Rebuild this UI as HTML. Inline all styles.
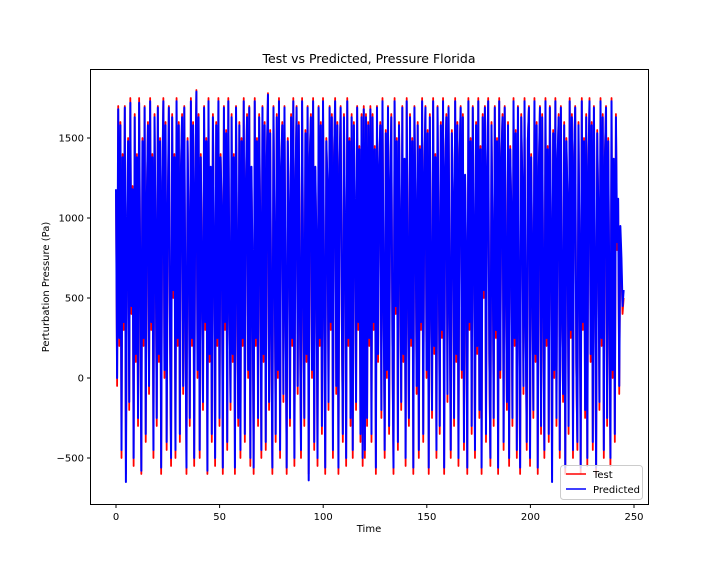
<!DOCTYPE html>
<html><head><meta charset="utf-8"><style>
body{margin:0;background:#fff;font-family:"Liberation Sans","DejaVu Sans",sans-serif;}
svg text{font-family:"DejaVu Sans","Liberation Sans",sans-serif;}
</style></head><body>
<svg id="chart" width="720" height="576" xmlns="http://www.w3.org/2000/svg">
<rect width="720" height="576" fill="#fff"/>
<g id="plot"></g>
<rect x="90.5" y="69.5" width="558" height="435" fill="none" stroke="#000" stroke-width="1"/>
<g id="xt"></g><g id="yt"></g>
<text x="369" y="63" font-size="12.5" text-anchor="middle">Test vs Predicted, Pressure Florida</text>
<text x="369" y="532" font-size="10" text-anchor="middle">Time</text>
<text transform="translate(49,287) rotate(-90)" font-size="10" text-anchor="middle">Perturbation Pressure (Pa)</text>
<g>
<rect x="560.5" y="465.5" width="82" height="34" rx="3" fill="#fff" fill-opacity="0.8" stroke="#ccc"/>
<line x1="566" y1="474" x2="586" y2="474" stroke="#f00" stroke-width="1.5"/>
<text x="593" y="478" font-size="10">Test</text>
<line x1="566" y1="489" x2="586" y2="489" stroke="#00f" stroke-width="1.5"/>
<text x="593" y="493" font-size="10">Predicted</text>
</g>
</svg>
<script>
const xTicks=[0,50,100,150,200,250];
const yTicks=[-500,0,500,1000,1500];
const timeEnd=245;
const testValuesA=[1150,-50,1700,200,1600,-500,1400,300,1700,-600,900,1500,-200,1750,400,1200,-550,1650,100,1400,
-300,1750,600,-600,1500,200,1700,-400,1100,1600,-100,1750,300,1400,-500,1650,800,-300,1700,100,
1500,-600,1200,1750,0,1600,-450,1000,1700,300,-550,1650,500,1400,-500,1750,200,1600,-400,1300,
1650,-100,1700,400,-600,1500,900,-300,1750,200,1600,-550,1200,1800,0,1650,-500,1400,600,-200,
1700,300,1500,-600,1750,100,1300,-400,1650,800,-550,1600,200,1750,-300,1400,1000,-600,1700,300,
1550,-450,1750,500,-200,1650,100,1400,-600,1700,700,-300,1600,-500,1500,200,1750,-400,1200,1650,
0,1700,-550,1300,600,-600,1750,200,1500,-300,1650,900,-500,1700,100,1600,-450,1400,1780,-200,
1550,300,-600,1700,800,-400,1650,0,1750,-500,1300,1600,-150,1700,400,-600,1500,1000,-300,1650,
200,1750,-550,1200,1700,-100,1600,400,-500,1750,600,-300,1550,100,1700,-600,1400,1650,0,1750,
-450,1300,800,-550,1700,200,1600,-350,1750,500,-600,1500,1200,-200,1700,300,1650,-500,1400,1750,
-100,1600,-600,1300,1700,400,-400,1650,900,-550,1750,200,1500,-300,1650,-500,1600,1000,-200,1700,
300,1450,-400,1650,-550,1700,-500,1650,-300,1600,200];
const testValuesB=[1700,-400,1650,300,1450,-600,1700,100,1300,1600,-250,1750,500,-500,1550,0,1700,-350,1200,1650,
200,-600,1750,400,1500,-450,1600,900,-200,1700,100,1350,-550,1750,600,-300,1650,200,1500,-600,
1700,1000,-100,1600,-500,1450,300,1750,-400,1250,1700,0,1550,-600,1650,500,-250,1750,150,1400,
-500,1700,800,-350,1600,250,1750,-600,1300,1650,-150,1700,450,-500,1550,1100,-300,1750,100,1600,
-550,1400,1700,0,1650,-450,1250,700,-600,1750,300,1500,-350,1700,900,-500,1600,150,1750,-250,
1450,-600,1650,500,1700,-400,1300,1750,100,-550,1600,800,-300,1700,250,1500,-600,1750,0,1350,
1650,-450,1700,600,-200,1600,-550,1450,1000,-300,1750,200,1550,-500,1700,400,-600,1650,1200,-100,
1750,300,-450,1500,1700,-550,1400,700,-250,1750,100,1600,-600,1300,1700,-350,1650,500,-500,1750,
200,1450,-400,1700,900,-600,1550,0,1750,-300,1350,1650,-500,1700,400,-150,1600,-600,1500,1100,
-350,1750,250,1650,-500,1400,1700,50,-450,1600,700,-600,1750,300,1500,-250,1650,-550,1300,1750,
100,1600,-450,1700,600,-600,1550,1000,-200,1750,200,1650,-500,1400,1700,-300,1500,500,-550,1750,
0,1350,-400,1650,800,1100,-100,900,700,400,500];
const predictedValuesA=[1180,0,1680,250,1580,-450,1380,350,1690,-650,950,1480,-150,1720,450,1180,-500,1630,150,1380,
-250,1720,650,-580,1480,250,1690,-350,1120,1580,-50,1730,350,1380,-450,1630,850,-250,1690,150,
1480,-560,1220,1730,50,1580,-400,1050,1690,350,-500,1630,550,1380,-450,1730,250,1580,-350,1320,
1630,-50,1690,450,-560,1480,950,-250,1730,250,1580,-500,1220,1790,50,1630,-450,1380,650,-150,
1690,350,1480,-580,1730,150,1320,-350,1630,850,-500,1580,250,1730,-250,1380,1050,-560,1690,350,
1530,-400,1730,550,-150,1630,150,1380,-560,1690,750,-250,1580,-450,1480,250,1730,-350,1220,1630,
50,1690,-500,1320,650,-560,1730,250,1480,-250,1630,950,-450,1690,150,1580,-400,1380,1770,-150,
1530,350,-560,1690,850,-350,1630,50,1730,-450,1320,1580,-100,1690,450,-560,1480,1050,-250,1630,
250,1730,-500,1220,1690,-50,1580,450,-450,1730,650,-250,1530,150,1690,-640,1380,1630,50,1730,
-400,1320,850,-500,1690,250,1580,-300,1730,550,-560,1480,1220,-150,1690,350,1630,-450,1380,1730,
-50,1580,-560,1320,1690,450,-350,1630,950,-500,1730,250,1480,-250,1630,-450,1580,1050,-150,1690,
350,1430,-350,1630,-500,1680,-450,1630,-250,1580,250];
const predictedValuesB=[1680,-350,1630,350,1430,-560,1690,150,1320,1580,-200,1730,550,-450,1530,50,1690,-300,1220,1630,
250,-560,1730,450,1480,-400,1580,950,-150,1690,150,1370,-500,1730,650,-250,1630,250,1480,-560,
1690,1050,-50,1580,-450,1430,350,1730,-350,1270,1690,50,1530,-560,1630,550,-200,1730,200,1380,
-450,1690,850,-300,1580,300,1730,-560,1320,1630,-100,1690,500,-450,1530,1120,-250,1730,150,1580,
-500,1380,1690,50,1630,-400,1270,750,-560,1730,350,1480,-300,1690,950,-450,1580,200,1730,-200,
1430,-560,1630,550,1690,-350,1320,1730,150,-500,1580,850,-250,1690,300,1480,-560,1730,50,1370,
1630,-400,1690,650,-150,1580,-500,1430,1050,-250,1730,250,1530,-450,1690,450,-560,1630,1220,-50,
1730,350,-400,1480,1690,-500,1380,750,-200,1730,150,1580,-560,1320,1690,-300,1630,550,-450,1730,
250,1430,-350,1690,950,-650,1530,50,1730,-250,1370,1630,-450,1690,450,-100,1580,-560,1480,1120,
-300,1730,300,1630,-450,1380,1690,100,-400,1580,750,-560,1730,350,1480,-200,1630,-500,1320,1730,
150,1580,-400,1690,650,-560,1530,1050,-150,1730,250,1630,-450,1380,1690,-250,1480,550,-500,1730,
50,1370,-350,1630,850,1120,-50,950,750,450,550];
const testValues=testValuesA.concat(testValuesB);
const predictedValues=predictedValuesA.concat(predictedValuesB);
const X=v=>116+v*2.072, Y=v=>378-v*0.16;
const NS="http://www.w3.org/2000/svg";
const plot=document.getElementById('plot');
function line(vals,color,w,name){
  const step=timeEnd/(vals.length-1);
  const p=document.createElementNS(NS,'polyline');
  p.setAttribute('points',vals.map((v,i)=>X(i*step)+','+Y(v)).join(' '));
  p.setAttribute('fill','none');p.setAttribute('stroke',color);p.setAttribute('stroke-width',w);
  p.setAttribute('stroke-linejoin','round');
  
  
  plot.appendChild(p);
}
line(testValues,'#f00',1.8,'test-series');
line(predictedValues,'#00f',2,'predicted-series');
const xt=document.getElementById('xt'), yt=document.getElementById('yt');
xTicks.forEach(t=>{
  const l=document.createElementNS(NS,'line');
  l.setAttribute('x1',X(t));l.setAttribute('x2',X(t));l.setAttribute('y1',504.5);l.setAttribute('y2',508);l.setAttribute('stroke','#000');
  
  
  xt.appendChild(l);
  const s=document.createElementNS(NS,'text');
  s.setAttribute('x',X(t));s.setAttribute('y',520);s.setAttribute('font-size','10');s.setAttribute('text-anchor','middle');
  s.textContent=t;
  
  
  xt.appendChild(s);
});
yTicks.forEach(t=>{
  const l=document.createElementNS(NS,'line');
  l.setAttribute('x1',87);l.setAttribute('x2',90.5);l.setAttribute('y1',Y(t));l.setAttribute('y2',Y(t));l.setAttribute('stroke','#000');
  
  
  yt.appendChild(l);
  const s=document.createElementNS(NS,'text');
  s.setAttribute('x',84);s.setAttribute('y',Y(t)+3.5);s.setAttribute('font-size','10');s.setAttribute('text-anchor','end');
  s.textContent=t<0?'\u2212'+(-t):t;
  
  
  yt.appendChild(s);
});
</script>
</body></html>
